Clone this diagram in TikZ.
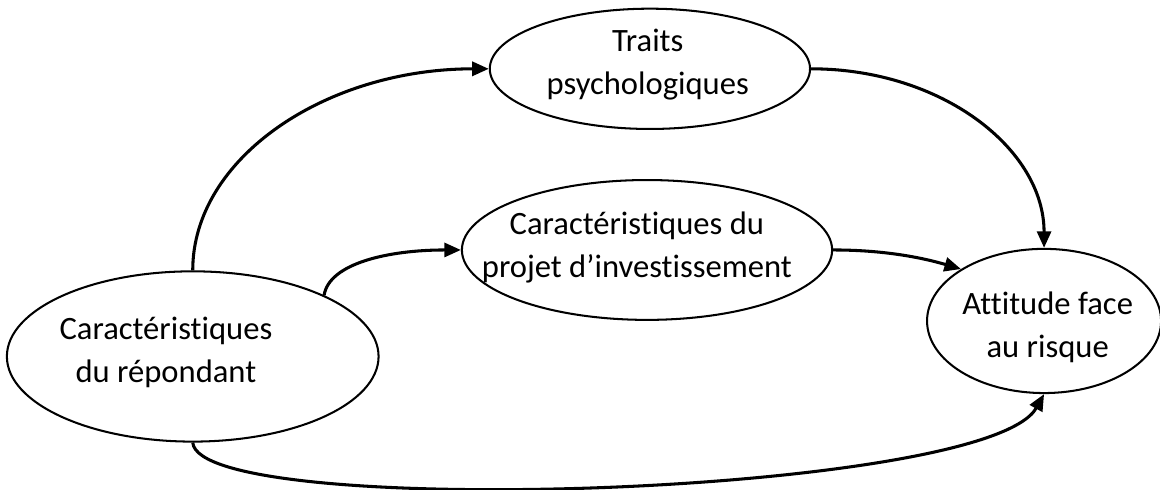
\documentclass[tikz,border=0pt]{standalone}
\usepackage{fontspec}
\setmainfont{Carlito}[Ligatures={NoCommon}]
\usetikzlibrary{arrows.meta,shapes.geometric}
\tikzset{
  >=Triangle,
  bubble/.style={ellipse,draw=black,line width=.8pt,fill=white,inner sep=0pt},
  lbl/.style={align=center,text=black,font=\fontsize{12.8}{16.8}\selectfont,inner sep=0pt},
  link/.style={-{Triangle[length=6.5pt,width=5.5pt]},line width=1.2pt,draw=black}
}
\begin{document}
\begin{tikzpicture}[x=1cm,y=1cm]
  \useasboundingbox (0,0) rectangle (16.01,6.76);
  % ellipses
  \node[bubble,minimum width=4.42cm,minimum height=1.66cm] (traits) at (8.97,5.81) {};
  \node[bubble,minimum width=5.11cm,minimum height=1.93cm] (projet) at (8.93,3.31) {};
  \node[bubble,minimum width=5.13cm,minimum height=2.35cm] (rep) at (2.66,1.84) {};
  \node[bubble,minimum width=3.23cm,minimum height=1.99cm] (att) at (14.41,2.33) {};
  % texts
  \node[lbl] (traitsT) at (8.94,5.87) {Traits\\psychologiques};
  \node[lbl] (projetT) at (8.79,3.34) {Caractéristiques du\\projet d’investissement};
  \node[lbl] (repT) at (2.29,1.90) {Caractéristiques\\du répondant};
  \node[lbl] (attT) at (14.46,2.24) {Attitude face\\au risque};
  % links
  \draw[link] (rep.north) .. controls +(0,1.55) and +(-2.25,0) .. (traits.west);
  \draw[link] (rep.25) .. controls +(0.07,0.44) and +(-1.0,0) .. (projet.west);
  \draw[link] (traits.east) .. controls +(1.81,0) and +(0,1.36) .. (att.north);
  \draw[link] (projet.east) .. controls +(0.66,0) and +(-0.58,0.17) .. (att.148);
  \draw[link] (rep.south) .. controls +(0.10,-1.08) and +(-0.79,-1.41) .. (att.south);
\end{tikzpicture}
\end{document}
